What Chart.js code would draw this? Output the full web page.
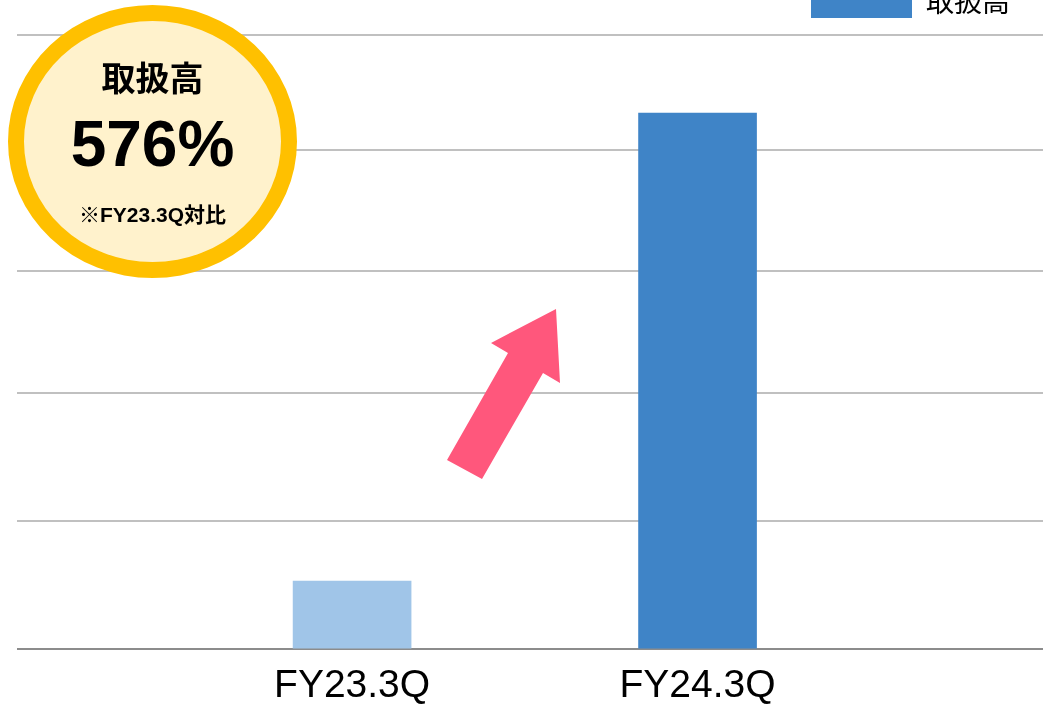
<!DOCTYPE html>
<html lang="ja">
<head>
<meta charset="utf-8">
<title>取扱高 FY23.3Q / FY24.3Q</title>
<script src="https://cdn.jsdelivr.net/npm/chart.js@4/dist/chart.umd.min.js"></script>
<style>
    html, body { margin: 0; padding: 0; background: #fff; overflow: hidden; }
    body { width: 1043px; height: 704px; position: relative; }
    #chartBox { position: absolute; left: 0; top: -48px; width: 1043px; height: 772px; }
    .ring {
        position: absolute; left: 8px; top: 5px; width: 289px; height: 273px;
        box-sizing: border-box; border: 16px solid #FFC000; border-radius: 50%;
        background: #FFF2CC;
    }
    .badge-text {
        position: absolute; left: 8px; width: 289px; text-align: center;
        color: #000; font-weight: bold; white-space: nowrap;
    }
    .badge-title { top: 60px; font: bold 34px/34px "Noto Sans CJK JP", sans-serif; }
    .badge-value { top: 112px; font: bold 64px/64px "Liberation Sans", Arial, sans-serif; }
    .badge-note { top: 204px; font: bold 21px/21px "Liberation Sans", Arial, "Noto Sans CJK JP", sans-serif; }
    #arrow { position: absolute; left: 0; top: 0; pointer-events: none; }
</style>
</head>
<body>
<div id="chartBox"><canvas id="salesChart"></canvas></div>

<!-- growth badge -->
<div class="ring"></div>
<div class="badge-text badge-title">取扱高</div>
<div class="badge-text badge-value">576%</div>
<div class="badge-text badge-note">※FY23.3Q対比</div>

<!-- pink growth arrow -->
<svg id="arrow" width="1043" height="704">
    <polygon points="556,309 560,383 543,373 482,479 447,460 508,353 491,343" fill="#FF577C"/>
</svg>

<script>
// Data
const categories = ['FY23.3Q', 'FY24.3Q'];
const volumes = [68, 536];
const barColors = ['#A0C5E8', '#3F84C7'];
const gridValues = [0, 128, 256, 378, 499, 614];
const seriesName = '取扱高';

// make the legend block taller so the plot starts lower
const legendSpace = {
    id: 'legendSpace',
    beforeInit(chart) {
        const fit = chart.legend.fit;
        chart.legend.fit = function () {
            fit.call(this);
            this.height = 83;
        };
    }
};

const ctx = document.getElementById('salesChart').getContext('2d');

new Chart(ctx, {
    type: 'bar',
    data: {
        datasets: [{
            label: seriesName,
            data: categories.map((c, i) => ({ x: i + 1, y: volumes[i] })),
            backgroundColor: barColors,
            barThickness: 118,
            borderWidth: 0
        }]
    },
    options: {
        responsive: true,
        maintainAspectRatio: false,
        animation: false,
        layout: { padding: { left: 17, right: 0, top: 0, bottom: 0 } },
        plugins: {
            tooltip: { enabled: false },
            legend: {
                position: 'top',
                align: 'end',
                labels: {
                    boxWidth: 101,
                    boxHeight: 33,
                    padding: 33,
                    color: '#000',
                    font: { family: "'Noto Sans CJK JP', sans-serif", size: 28 },
                    generateLabels: () => [{
                        text: seriesName,
                        fillStyle: barColors[1],
                        strokeStyle: barColors[1],
                        lineWidth: 0,
                        hidden: false,
                        datasetIndex: 0
                    }]
                }
            }
        },
        scales: {
            x: {
                type: 'linear',
                min: 0.03,
                max: 3.0,
                offset: false,
                grid: { display: false, drawTicks: false },
                border: { display: false },
                afterBuildTicks: (axis) => {
                    axis.ticks = categories.map((c, i) => ({ value: i + 1 }));
                },
                ticks: {
                    maxRotation: 0,
                    autoSkip: false,
                    padding: 14,
                    color: '#000',
                    font: { family: "'Liberation Sans', Arial, sans-serif", size: 39 },
                    callback: (value) => categories[value - 1]
                }
            },
            y: {
                min: 0,
                max: 614,
                afterBuildTicks: (axis) => {
                    axis.ticks = gridValues.map(v => ({ value: v }));
                },
                ticks: { display: false },
                border: { display: false },
                grid: {
                    drawTicks: false,
                    lineWidth: 2,
                    color: (c) => c.tick && c.tick.value === 0 ? '#8C8C8C' : '#C0C0C0'
                }
            }
        }
    },
    plugins: [legendSpace]
});
</script>
</body>
</html>
